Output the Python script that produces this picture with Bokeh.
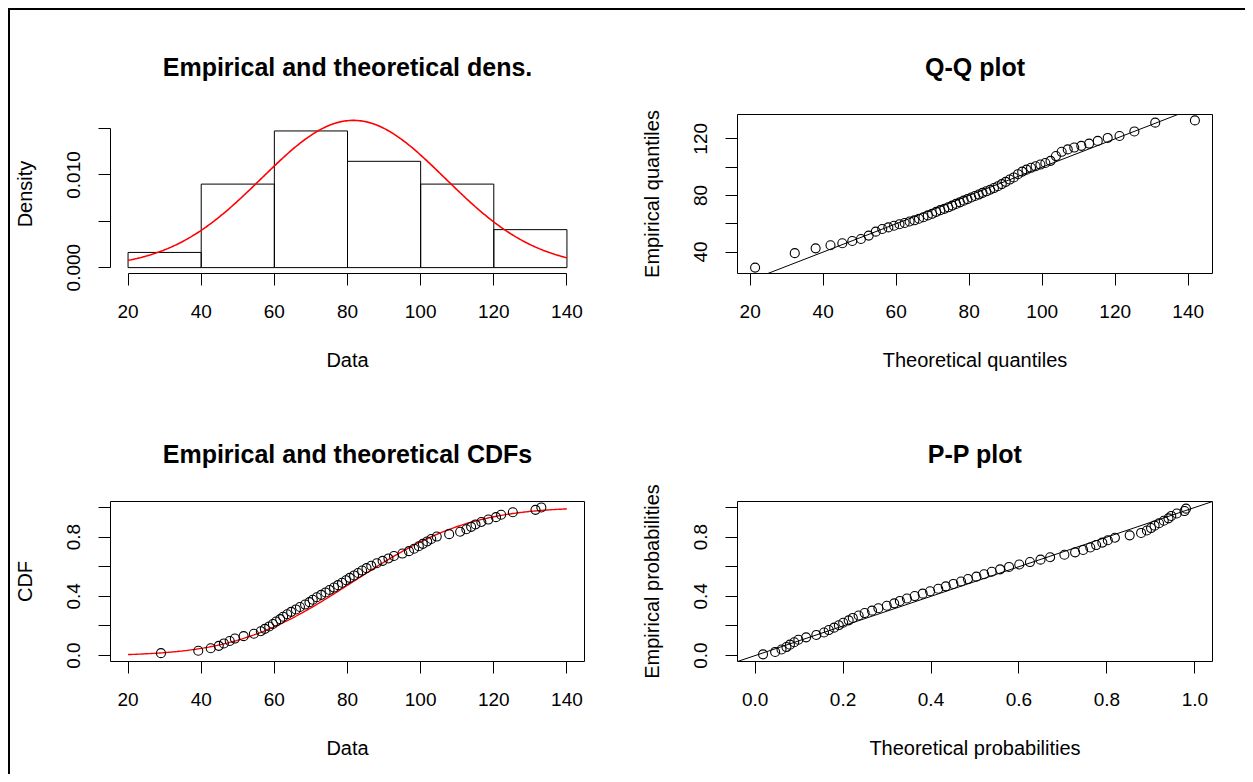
from statistics import NormalDist
import numpy as np
from bokeh.plotting import figure
from bokeh.layouts import column, row
from bokeh.models import Range1d, FixedTicker, Slope
from bokeh.embed import file_html
from bokeh.resources import INLINE

# ---------------- data ----------------
DATA = [29.0, 39.2, 42.6, 44.8, 46.2, 47.8, 49.2, 51.6, 54.4, 56.3, 57.4, 58.6, 59.6,
        60.5, 61.6, 62.4, 63.5, 64.6, 65.9, 67.0, 68.4, 69.6, 70.5, 71.6, 72.8, 74.0,
        75.1, 76.3, 77.4, 78.5, 79.6,
        80.6, 81.8, 82.9, 84.0, 85.2, 86.5, 88.0, 89.6, 91.2, 92.7, 95.0, 96.8, 98.2, 99.5,
        100.6, 101.8, 102.9, 104.4, 107.8, 110.8, 112.5, 113.8, 115.0, 116.6, 118.5,
        120.6, 122.0, 125.2, 131.4, 133.0]
FIT_MEAN = 81.6
FIT_SD = 25.1
HIST_BREAKS = [20, 40, 60, 80, 100, 120, 140]

DATA_TICKS = [20, 40, 60, 80, 100, 120, 140]
DATA_TICK_LABELS = ["20", "40", "60", "80", "100", "120", "140"]
DENS_TICKS = [0.0, 0.005, 0.010, 0.015]
DENS_TICK_LABELS = ["0.000", "", "0.010", ""]
QQ_Y_TICKS = [40, 60, 80, 100, 120]
QQ_Y_TICK_LABELS = ["40", "", "80", "", "120"]
PROB_TICKS = [0.0, 0.2, 0.4, 0.6, 0.8, 1.0]
PROB_X_LABELS = ["0.0", "0.2", "0.4", "0.6", "0.8", "1.0"]
PROB_Y_LABELS = ["0.0", "", "0.4", "", "0.8", ""]

TITLES = ["Empirical and theoretical dens.", "Q-Q plot",
          "Empirical and theoretical CDFs", "P-P plot"]

FONT = "Liberation Sans"
TICK_SIZE = "19px"
LABEL_SIZE = "20px"
TITLE_SIZE = "25px"

# ---------------- derived quantities ----------------
fit = NormalDist(FIT_MEAN, FIT_SD)
sdata = np.sort(np.array(DATA, dtype=float))
n = len(sdata)
ppts = (np.arange(1, n + 1) - 0.5) / n
ecdf_y = np.arange(1, n + 1) / n
theo_q = np.array([fit.inv_cdf(p) for p in ppts])
theo_p = np.array([fit.cdf(v) for v in sdata])
dens, _ = np.histogram(sdata, bins=HIST_BREAKS, density=True)
curve_x = np.linspace(HIST_BREAKS[0], HIST_BREAKS[-1], 301)
curve_d = np.array([fit.pdf(v) for v in curve_x])
curve_c = np.array([fit.cdf(v) for v in curve_x])


def ext(lo, hi):
    d = (hi - lo) * 0.04
    return (lo - d, hi + d)


def make_fig(title, width, height, bl, br, bt, bb, xr, yr, boxed=True):
    p = figure(width=width, height=height, min_border_left=bl, min_border_right=br,
               min_border_top=bt, min_border_bottom=bb,
               x_range=Range1d(*xr), y_range=Range1d(*yr),
               output_backend="svg", toolbar_location=None, title=title)
    p.xgrid.visible = False
    p.ygrid.visible = False
    p.background_fill_color = "white"
    p.border_fill_color = "white"
    p.outline_line_color = "black" if boxed else None
    p.outline_line_width = 1
    p.title.align = "center"
    p.title.text_font = FONT
    p.title.text_font_size = TITLE_SIZE
    p.title.text_font_style = "bold"
    p.title.text_color = "black"
    p.title.standoff = 67
    return p


def style_axis(ax, ticks, labels, label, vertical=False):
    ax.ticker = FixedTicker(ticks=ticks, minor_ticks=[])
    ax.major_label_overrides = {t: l for t, l in zip(ticks, labels)}
    ax.bounds = (ticks[0], ticks[-1])
    ax.axis_label = label
    ax.axis_label_text_font = FONT
    ax.axis_label_text_font_size = LABEL_SIZE
    ax.axis_label_text_font_style = "normal"
    ax.axis_label_text_color = "black"
    ax.major_label_text_font = FONT
    ax.major_label_text_font_size = TICK_SIZE
    ax.major_label_text_color = "black"
    ax.major_tick_in = 0
    ax.major_tick_out = 12
    ax.major_tick_line_color = "black"
    ax.axis_line_color = "black"
    if vertical:
        ax.major_label_orientation = "vertical"
        ax.major_label_standoff = 18
        ax.axis_label_standoff = 29
    else:
        ax.major_label_standoff = 19
        ax.axis_label_standoff = 28


# layout geometry
L_W, R_W = 616, 619
T_H, B_H = 380, 384

ymax = max(dens.max(), curve_d.max())

# Panel 1: density histogram
p1 = make_fig(TITLES[0], L_W, T_H, 100, 42, 104, 117,
              ext(HIST_BREAKS[0], HIST_BREAKS[-1]), ext(0, ymax), boxed=False)
p1.quad(left=HIST_BREAKS[:-1], right=HIST_BREAKS[1:], bottom=0, top=dens,
        fill_color=None, line_color="black", line_width=1)
p1.line(curve_x, curve_d, line_color="red", line_width=1.6)
style_axis(p1.xaxis[0], DATA_TICKS, DATA_TICK_LABELS, "Data")
style_axis(p1.yaxis[0], DENS_TICKS, DENS_TICK_LABELS, "Density", vertical=True)

# Panel 2: Q-Q plot
p2 = make_fig(TITLES[1], R_W, T_H, 111, 33, 104, 117,
              ext(theo_q.min(), theo_q.max()), ext(sdata.min(), sdata.max()))
p2.add_layout(Slope(gradient=1, y_intercept=0, line_color="black", line_width=1))
p2.scatter(theo_q, sdata, marker="circle", size=9, fill_color=None,
           line_color="black", line_width=1.1)
style_axis(p2.xaxis[0], DATA_TICKS, DATA_TICK_LABELS, "Theoretical quantiles")
style_axis(p2.yaxis[0], QQ_Y_TICKS, QQ_Y_TICK_LABELS, "Empirical quantiles", vertical=True)

# Panel 3: CDF
p3 = make_fig(TITLES[2], L_W, B_H, 100, 42, 111, 113,
              ext(HIST_BREAKS[0], HIST_BREAKS[-1]), ext(0, 1))
p3.line(curve_x, curve_c, line_color="red", line_width=1.4)
p3.scatter(sdata, ecdf_y, marker="circle", size=9, fill_color=None,
           line_color="black", line_width=1.1)
style_axis(p3.xaxis[0], DATA_TICKS, DATA_TICK_LABELS, "Data")
style_axis(p3.yaxis[0], PROB_TICKS, PROB_Y_LABELS, "CDF", vertical=True)

# Panel 4: P-P plot
p4 = make_fig(TITLES[3], R_W, B_H, 111, 33, 111, 113, ext(0, 1), ext(0, 1))
p4.add_layout(Slope(gradient=1, y_intercept=0, line_color="black", line_width=1))
p4.scatter(theo_p, ppts, marker="circle", size=9, fill_color=None,
           line_color="black", line_width=1.1)
style_axis(p4.xaxis[0], PROB_TICKS, PROB_X_LABELS, "Theoretical probabilities")
style_axis(p4.yaxis[0], PROB_TICKS, PROB_Y_LABELS, "Empirical probabilities", vertical=True)

layout = column(row(p1, p2), row(p3, p4),
                styles={"border-left": "2px solid black", "border-top": "2px solid black",
                        "margin-left": "8px", "margin-top": "8px"})

open("out.html", "w").write(file_html(layout, INLINE))
